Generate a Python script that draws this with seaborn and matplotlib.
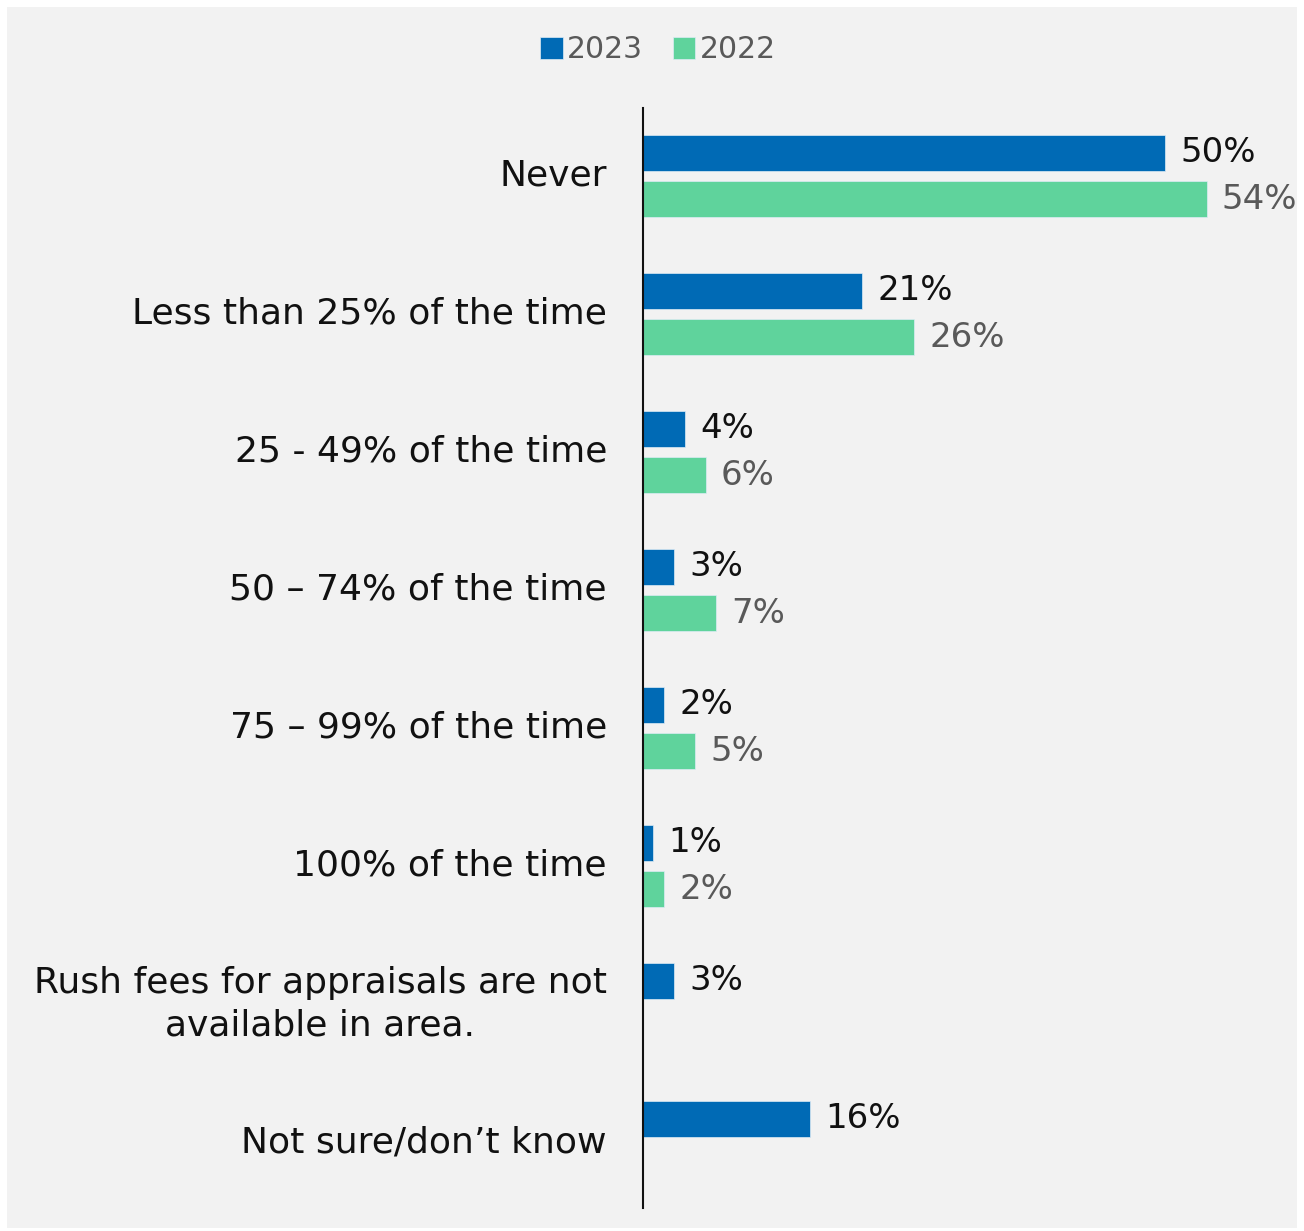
import matplotlib
matplotlib.use("Agg")
import matplotlib.pyplot as plt
from matplotlib.patches import Rectangle
import seaborn as sns
import pandas as pd
import numpy as np

categories = [
    "Never",
    "Less than 25% of the time",
    "25 - 49% of the time",
    "50 \u2013 74% of the time",
    "75 \u2013 99% of the time",
    "100% of the time",
    "Rush fees for appraisals are not\navailable in area.",
    "Not sure/don\u2019t know",
]
values_2023 = [50, 21, 4, 3, 2, 1, 3, 16]
values_2022 = [54, 26, 6, 7, 5, 2, None, None]
years = ["2023", "2022"]
colors = {"2023": "#006AB5", "2022": "#5FD39C"}
label_colors = {"2023": "#111111", "2022": "#595959"}

rows = []
for cat, v23, v22 in zip(categories, values_2023, values_2022):
    rows.append({"category": cat, "year": "2023", "value": v23})
    if v22 is not None:
        rows.append({"category": cat, "year": "2022", "value": v22})
df = pd.DataFrame(rows)

sns.set_theme(style="white")
plt.rcParams["font.family"] = ["DejaVu Sans"]

W, H = 1304, 1231
fig = plt.figure(figsize=(W / 100, H / 100), dpi=100, facecolor="white")
fig.patches.append(Rectangle((7 / W, 3 / H), 1290 / W, 1221 / H,
                             transform=fig.transFigure, facecolor="#F2F2F2",
                             edgecolor="none", zorder=-10))

ax = fig.add_axes([643 / W, 1 - 1211 / H, (1290 - 643) / W, (1211 - 107) / H])
ax.set_facecolor("none")

sns.barplot(data=df, y="category", x="value", hue="year", order=categories,
            hue_order=years, palette=colors, orient="h", width=0.667, gap=0.22,
            errorbar=None, ax=ax, legend=True, saturation=1,
            edgecolor="#DDEBF5", linewidth=0.5)

ax.set_xlim(0, 62)
ax.set_ylim(len(categories) - 0.5, -0.5)

for container, yr in zip(ax.containers, years):
    ax.bar_label(container, labels=[f"{int(round(b.get_width()))}%" for b in container],
                 padding=11, fontsize=24.5, color=label_colors[yr])

ax.set_xlabel("")
ax.set_ylabel("")
ax.set_xticks([])
ax.tick_params(axis="y", length=0, pad=26, labelsize=26, labelcolor="#111111")
for lbl in ax.get_yticklabels():
    lbl.set_multialignment("center")
    lbl.set_linespacing(1.3)
    lbl.set_verticalalignment("center")

for side in ["top", "right", "bottom"]:
    ax.spines[side].set_visible(False)
ax.spines["left"].set_color("#111111")
ax.spines["left"].set_linewidth(1.5)
ax.spines["left"].set_bounds(len(categories) - 0.5 - 0.02, -0.5 + 0.01)

handles, labels = ax.get_legend_handles_labels()
ax.legend_.remove()
leg = fig.legend(handles, labels, loc="center", bbox_to_anchor=(658 / W, 1 - 50 / H),
                 ncol=2, frameon=False, fontsize=21.5, handlelength=0.75,
                 handleheight=0.75, handletextpad=0.15, columnspacing=1.0,
                 labelcolor="#595959")

fig.savefig("out.png", dpi=100, facecolor="white")
